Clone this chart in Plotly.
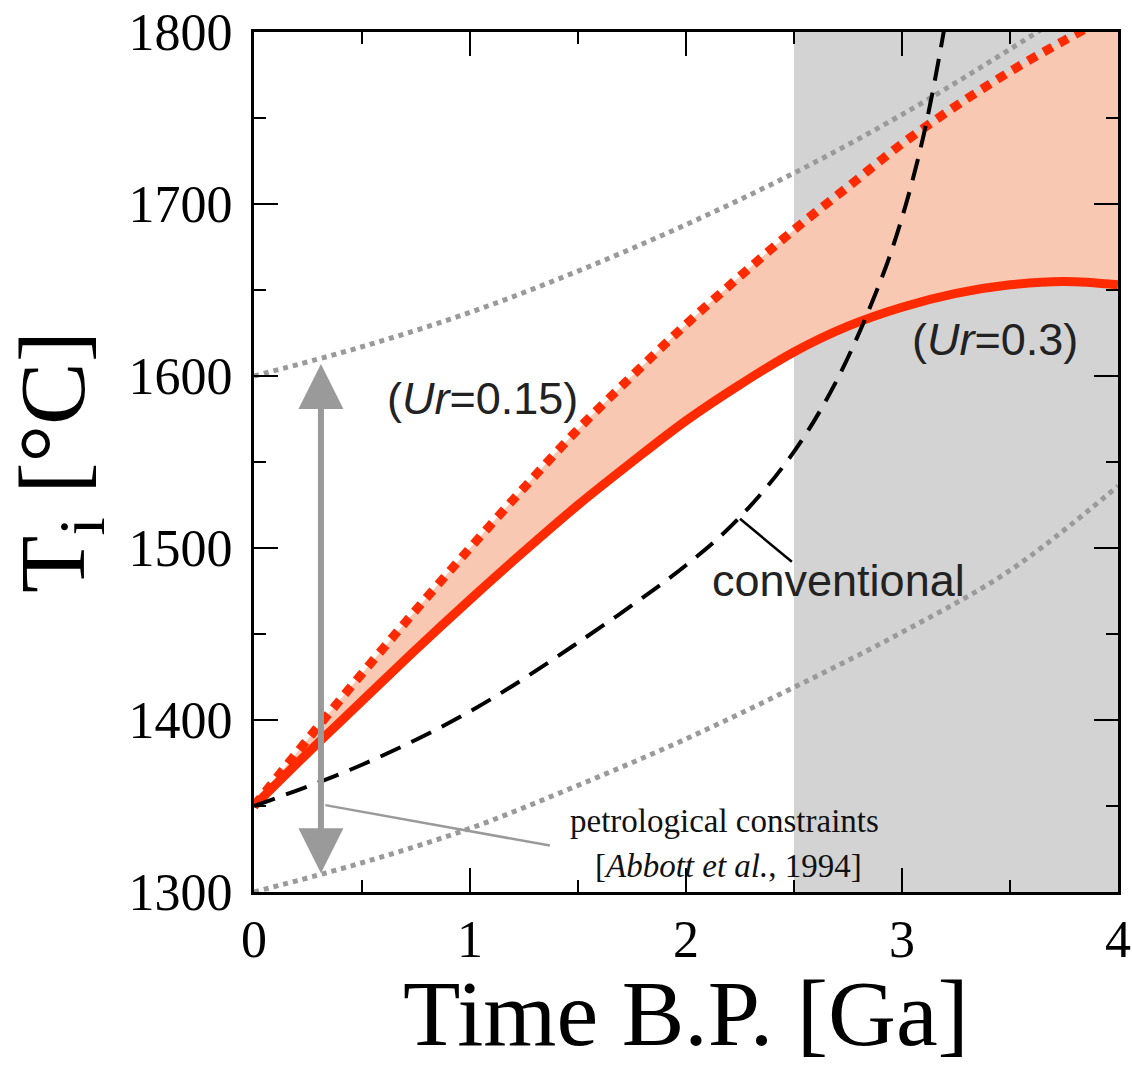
import plotly.graph_objects as go

# ---- data ----
time_red = [0, 0.25, 0.5, 0.75, 1.0, 1.25, 1.5, 1.75, 2.0, 2.25, 2.5, 2.75, 3.0, 3.25, 3.5, 3.75, 4.0]
ti_ur030 = [1350, 1381, 1411, 1441, 1470, 1498, 1525, 1550, 1574, 1595, 1614, 1629, 1640, 1648, 1653, 1655, 1653]
ti_ur015 = [1350, 1389, 1427, 1464, 1500, 1535, 1569, 1600, 1630, 1658, 1685, 1710, 1735, 1757, 1777, 1795, 1812]

time_conv = [0, 0.5, 1.0, 1.5, 2.0, 2.25, 2.5, 2.7, 2.9, 3.0, 3.1, 3.2, 3.25]
ti_conv = [1350, 1374, 1405, 1445, 1490, 1518, 1556, 1598, 1655, 1692, 1740, 1805, 1845]

time_env = [0, 0.5, 1.0, 1.5, 2.0, 2.5, 3.0, 3.5, 4.0]
ti_env_upper = [1600, 1617, 1637, 1661, 1688, 1718, 1752, 1790, 1830]
ti_env_lower = [1300, 1317, 1337, 1362, 1389, 1419, 1451, 1487, 1536]

archean_range = [2.5, 4.0]
petro_time = 0.31
petro_range = [1310, 1607]

RED = "#FF2A00"
SALMON = "#F9C8B2"
GREY_LINE = "#9A9A9A"
SHADE = "#D3D3D3"

fig = go.Figure()

# base (invisible) for fill
fig.add_trace(go.Scatter(x=time_red, y=ti_ur030, mode="lines", line=dict(width=0, shape="spline"),
                         showlegend=False, hoverinfo="skip"))
fig.add_trace(go.Scatter(x=time_red, y=ti_ur015, mode="lines", fill="tonexty", fillcolor=SALMON,
                         line=dict(width=0, shape="spline"), showlegend=False, hoverinfo="skip"))

# grey envelope
fig.add_trace(go.Scatter(x=time_env, y=ti_env_upper, mode="lines",
                         line=dict(color=GREY_LINE, width=5, dash="5px,5px", shape="spline"), showlegend=False))
fig.add_trace(go.Scatter(x=time_env, y=ti_env_lower, mode="lines",
                         line=dict(color=GREY_LINE, width=5, dash="5px,5px", shape="spline"), showlegend=False))

# red curves
fig.add_trace(go.Scatter(x=time_red, y=ti_ur015, mode="lines",
                         line=dict(color=RED, width=9, dash="10px,8px", shape="spline"), showlegend=False))
fig.add_trace(go.Scatter(x=time_red, y=ti_ur030, mode="lines",
                         line=dict(color=RED, width=9, shape="spline"), showlegend=False))

# conventional
fig.add_trace(go.Scatter(x=time_conv, y=ti_conv, mode="lines",
                         line=dict(color="black", width=4, dash="22px,12px", shape="spline"), showlegend=False))

# shaded Archean region
fig.add_shape(type="rect", xref="x", yref="y domain", x0=archean_range[0], x1=archean_range[1], y0=0, y1=1,
              fillcolor=SHADE, line=dict(width=0), layer="below")

# leader lines
fig.add_shape(type="line", xref="x", yref="y", x0=petro_time + 0.02, y0=1350.5, x1=1.37, y1=1327,
              line=dict(color=GREY_LINE, width=2.5))
fig.add_shape(type="line", xref="x", yref="y", x0=2.25, y0=1517, x1=2.49, y1=1492,
              line=dict(color="black", width=2.5))

# double arrow for petrological constraints
fig.add_annotation(x=petro_time, y=petro_range[1], ax=petro_time, ay=petro_range[0],
                   xref="x", yref="y", axref="x", ayref="y", text="", showarrow=True,
                   arrowhead=2, startarrowhead=2, arrowside="end+start", arrowwidth=6,
                   arrowsize=1.5, startarrowsize=1.5, arrowcolor=GREY_LINE, standoff=0, startstandoff=0)

sans = dict(family="Liberation Sans, Arial, sans-serif", size=45, color="#222222")
serif_small = dict(family="Liberation Serif, Times New Roman, serif", size=33, color="#111111")

fig.add_annotation(x=1.058, y=1587, text="(<i>Ur</i>=0.15)", showarrow=False, font=sans)
fig.add_annotation(x=3.43, y=1621, text="(<i>Ur</i>=0.3)", showarrow=False, font=sans)
fig.add_annotation(x=2.704, y=1481, text="conventional", showarrow=False, font=sans)
fig.add_annotation(x=2.176, y=1341, text="petrological constraints", showarrow=False, font=serif_small)
fig.add_annotation(x=2.199, y=1315, text="[<i>Abbott et al.</i>, 1994]", showarrow=False, font=serif_small)

tickfont = dict(family="Liberation Serif, Times New Roman, serif", size=52, color="black")
titlefont = dict(family="Liberation Serif, Times New Roman, serif", size=94, color="black")

fig.update_xaxes(range=[0, 4], tickvals=[0, 1, 2, 3, 4], ticks="inside", ticklen=24, tickwidth=2,
                 tickcolor="black", showline=True, linewidth=3, linecolor="black", mirror="ticks",
                 showgrid=False, zeroline=False, tickfont=tickfont, ticklabelstandoff=0,
                 minor=dict(dtick=0.5, ticks="inside", ticklen=12, tickwidth=2, tickcolor="black"),
                 title=dict(text="Time B.P. [Ga]", font=titlefont, standoff=32))
fig.update_yaxes(range=[1300, 1800], tickvals=[1300, 1400, 1500, 1600, 1700, 1800], ticks="inside",
                 ticklen=24, tickwidth=2, tickcolor="black", showline=True, linewidth=3, linecolor="black",
                 mirror="ticks", showgrid=False, zeroline=False, tickfont=tickfont, ticklabelstandoff=8,
                 minor=dict(dtick=50, ticks="inside", ticklen=12, tickwidth=2, tickcolor="black"),
                 title=dict(text="T<sub>i</sub> [°C]", font=titlefont, standoff=24))

fig.update_layout(width=1132, height=1065, margin=dict(l=254, r=14, t=32, b=173, autoexpand=False),
                  plot_bgcolor="white", paper_bgcolor="white", showlegend=False)

fig.write_html("out.html")
